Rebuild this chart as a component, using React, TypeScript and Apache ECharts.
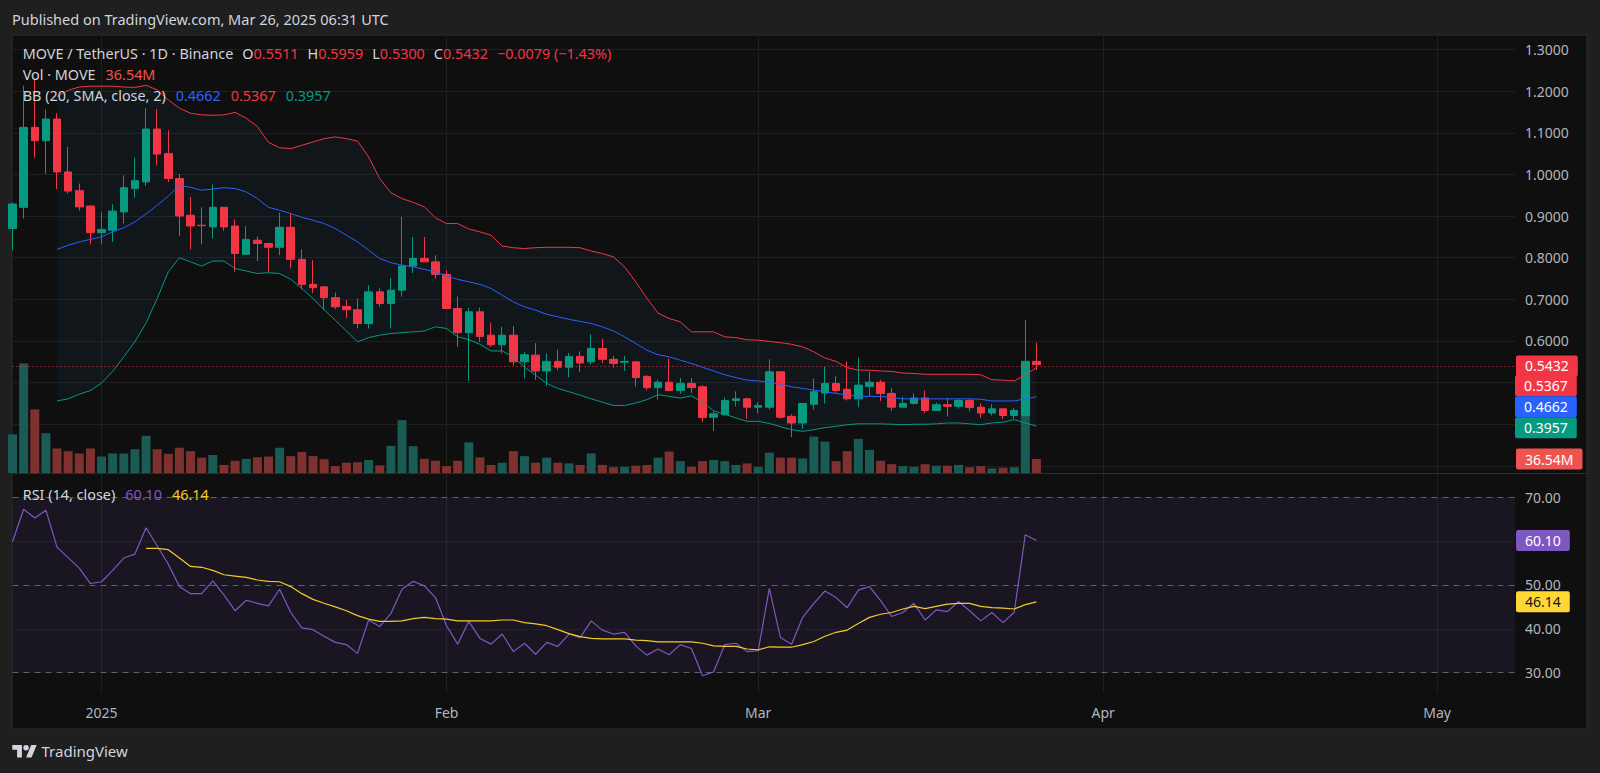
import React, { useEffect, useRef } from "react";
import * as echarts from "echarts";

const FONT = "'Noto Sans', 'DejaVu Sans', sans-serif";

// ---------- data ----------
// daily candles from 2024-12-24 to 2025-03-26: [open, high, low, close]
const candles: [number, number, number, number][] = [
  [0.870, 0.932, 0.818, 0.929],
  [0.921, 1.213, 0.894, 1.113],
  [1.113, 1.227, 1.040, 1.081],
  [1.081, 1.156, 1.002, 1.133],
  [1.133, 1.147, 0.965, 1.006],
  [1.006, 1.066, 0.954, 0.960],
  [0.961, 0.978, 0.913, 0.922],
  [0.924, 0.926, 0.832, 0.860],
  [0.860, 0.909, 0.832, 0.868],
  [0.866, 0.928, 0.838, 0.912],
  [0.910, 0.998, 0.882, 0.968],
  [0.966, 1.040, 0.944, 0.985],
  [0.982, 1.159, 0.972, 1.109],
  [1.109, 1.157, 1.022, 1.049],
  [1.050, 1.106, 0.982, 0.990],
  [0.990, 1.001, 0.852, 0.900],
  [0.902, 0.946, 0.820, 0.876],
  [0.878, 0.921, 0.832, 0.877],
  [0.874, 0.976, 0.846, 0.921],
  [0.921, 0.921, 0.865, 0.874],
  [0.876, 0.892, 0.766, 0.810],
  [0.808, 0.876, 0.808, 0.844],
  [0.842, 0.851, 0.792, 0.834],
  [0.834, 0.834, 0.766, 0.825],
  [0.825, 0.908, 0.806, 0.873],
  [0.873, 0.906, 0.774, 0.796],
  [0.796, 0.820, 0.724, 0.736],
  [0.736, 0.794, 0.715, 0.728],
  [0.730, 0.730, 0.674, 0.704],
  [0.704, 0.716, 0.676, 0.682],
  [0.683, 0.698, 0.655, 0.675],
  [0.675, 0.702, 0.630, 0.642],
  [0.642, 0.734, 0.630, 0.718],
  [0.718, 0.726, 0.682, 0.690],
  [0.690, 0.751, 0.630, 0.722],
  [0.722, 0.898, 0.706, 0.780],
  [0.780, 0.850, 0.763, 0.798],
  [0.798, 0.850, 0.790, 0.790],
  [0.790, 0.806, 0.750, 0.760],
  [0.760, 0.770, 0.678, 0.678],
  [0.678, 0.707, 0.586, 0.620],
  [0.620, 0.680, 0.504, 0.670],
  [0.670, 0.680, 0.598, 0.611],
  [0.614, 0.644, 0.586, 0.591],
  [0.591, 0.634, 0.570, 0.614],
  [0.614, 0.636, 0.542, 0.550],
  [0.550, 0.574, 0.510, 0.567],
  [0.566, 0.595, 0.507, 0.528],
  [0.528, 0.570, 0.492, 0.551],
  [0.551, 0.579, 0.530, 0.537],
  [0.537, 0.571, 0.513, 0.563],
  [0.563, 0.575, 0.525, 0.547],
  [0.550, 0.616, 0.544, 0.582],
  [0.582, 0.606, 0.547, 0.556],
  [0.556, 0.564, 0.536, 0.546],
  [0.549, 0.564, 0.528, 0.551],
  [0.550, 0.550, 0.490, 0.512],
  [0.515, 0.518, 0.481, 0.488],
  [0.488, 0.507, 0.459, 0.501],
  [0.501, 0.558, 0.481, 0.481],
  [0.481, 0.511, 0.473, 0.498],
  [0.498, 0.511, 0.475, 0.488],
  [0.490, 0.494, 0.405, 0.416],
  [0.417, 0.431, 0.384, 0.425],
  [0.423, 0.464, 0.419, 0.457],
  [0.457, 0.479, 0.443, 0.461],
  [0.461, 0.464, 0.413, 0.441],
  [0.441, 0.453, 0.427, 0.445],
  [0.441, 0.556, 0.435, 0.526],
  [0.526, 0.526, 0.413, 0.417],
  [0.419, 0.424, 0.369, 0.403],
  [0.403, 0.451, 0.389, 0.450],
  [0.448, 0.510, 0.435, 0.478],
  [0.475, 0.538, 0.450, 0.498],
  [0.498, 0.515, 0.475, 0.481],
  [0.484, 0.551, 0.457, 0.461],
  [0.461, 0.560, 0.441, 0.494],
  [0.491, 0.527, 0.467, 0.501],
  [0.501, 0.507, 0.456, 0.474],
  [0.474, 0.487, 0.432, 0.441],
  [0.441, 0.466, 0.441, 0.450],
  [0.450, 0.474, 0.447, 0.463],
  [0.463, 0.481, 0.427, 0.433],
  [0.433, 0.452, 0.433, 0.447],
  [0.447, 0.463, 0.419, 0.443],
  [0.443, 0.461, 0.437, 0.457],
  [0.457, 0.461, 0.432, 0.440],
  [0.441, 0.450, 0.415, 0.427],
  [0.427, 0.448, 0.421, 0.437],
  [0.437, 0.437, 0.413, 0.421],
  [0.421, 0.440, 0.413, 0.433],
  [0.421, 0.651, 0.421, 0.5511],
  [0.5511, 0.5959, 0.5300, 0.5432],
];

// volume in millions of MOVE
const volumes: number[] = [
  101, 286, 166, 104, 64, 57, 51, 64,
  43, 51, 51, 62, 97, 62, 50, 66, 57, 40, 47, 21, 32, 37, 41, 43,
  66, 44, 55, 44, 36, 18, 27, 28, 34, 20, 71, 138, 70, 37, 32,
  18, 32, 80, 41, 21, 27, 57, 44, 27, 40, 27, 25, 21, 51, 21, 15,
  16, 19, 21, 40, 56, 31, 16, 31, 34, 31, 21, 25,
  16, 53, 40, 40, 38, 95, 82, 31, 57, 89, 60, 32, 23, 18, 16, 23,
  19, 19, 21, 15, 18, 12, 14, 15, 215, 36.54,
];

const bbUpper: (number | null)[] = [
  null, null, null, null, 1.187, 1.202, 1.210, 1.212,
  1.212, 1.212, 1.210, 1.209, 1.214, 1.203, 1.179, 1.159, 1.147, 1.143, 1.142, 1.143, 1.149, 1.135, 1.115, 1.077,
  1.064, 1.062, 1.070, 1.078, 1.086, 1.090, 1.086, 1.080, 1.042, 0.990, 0.956, 0.942, 0.933, 0.922, 0.896,
  0.882, 0.882, 0.869, 0.862, 0.854, 0.828, 0.824, 0.822, 0.824, 0.825, 0.825, 0.825, 0.824, 0.816, 0.810, 0.802,
  0.778, 0.742, 0.703, 0.667, 0.654, 0.646, 0.622, 0.622, 0.622, 0.610, 0.608, 0.603,
  0.602, 0.599, 0.596, 0.592, 0.586, 0.574, 0.559, 0.551, 0.536, 0.530, 0.530, 0.528, 0.527, 0.523, 0.522, 0.520,
  0.520, 0.520, 0.520, 0.520, 0.519, 0.507, 0.506, 0.504, 0.518, 0.5367,
];

const bbBasis: (number | null)[] = [
  null, null, null, null, 0.820, 0.830, 0.838, 0.844,
  0.850, 0.862, 0.872, 0.886, 0.905, 0.926, 0.948, 0.974, 0.969, 0.962, 0.965, 0.968, 0.966, 0.958, 0.942, 0.921,
  0.914, 0.906, 0.897, 0.890, 0.882, 0.870, 0.854, 0.838, 0.818, 0.798, 0.788, 0.782, 0.778, 0.772, 0.766,
  0.756, 0.748, 0.742, 0.736, 0.726, 0.710, 0.694, 0.682, 0.674, 0.664, 0.658, 0.652, 0.647, 0.642, 0.634, 0.624,
  0.610, 0.594, 0.578, 0.567, 0.562, 0.554, 0.546, 0.537, 0.528, 0.519, 0.512, 0.506,
  0.504, 0.501, 0.496, 0.490, 0.486, 0.482, 0.478, 0.474, 0.470, 0.467, 0.467, 0.467, 0.464, 0.461, 0.461, 0.461,
  0.461, 0.461, 0.461, 0.461, 0.460, 0.456, 0.456, 0.456, 0.461, 0.4662,
];

const bbLower: (number | null)[] = [
  null, null, null, null, 0.456, 0.461, 0.472, 0.481,
  0.499, 0.527, 0.562, 0.598, 0.643, 0.702, 0.766, 0.800, 0.790, 0.780, 0.792, 0.792, 0.774, 0.768, 0.762, 0.764,
  0.762, 0.748, 0.726, 0.702, 0.675, 0.650, 0.624, 0.598, 0.608, 0.614, 0.618, 0.620, 0.622, 0.624, 0.634,
  0.630, 0.610, 0.603, 0.592, 0.576, 0.576, 0.562, 0.537, 0.518, 0.498, 0.486, 0.478, 0.470, 0.461, 0.453, 0.445,
  0.445, 0.451, 0.459, 0.471, 0.467, 0.463, 0.468, 0.453, 0.432, 0.424, 0.415, 0.407,
  0.407, 0.402, 0.394, 0.387, 0.383, 0.387, 0.392, 0.395, 0.399, 0.401, 0.401, 0.401, 0.400, 0.399, 0.400, 0.400,
  0.401, 0.403, 0.403, 0.401, 0.399, 0.403, 0.405, 0.411, 0.403, 0.3957,
];

const rsi: number[] = [
  59.8, 67.2, 65.2, 67.0, 58.6, 56.2, 53.8, 50.3,
  50.7, 53.3, 56.1, 57.0, 63.0, 58.9, 54.7, 49.6, 48.0, 48.0, 50.9, 47.7, 44.1, 46.5, 45.8, 45.2,
  49.0, 43.7, 40.2, 39.8, 38.3, 36.9, 36.4, 34.4, 42.0, 40.5, 43.5, 49.0, 50.8, 49.8, 47.1,
  40.7, 36.5, 41.7, 37.8, 36.5, 38.8, 34.8, 36.7, 34.2, 36.9, 36.0, 38.8, 38.0, 41.8, 39.7, 38.8,
  39.2, 36.1, 34.0, 35.4, 34.1, 36.4, 35.5, 29.3, 30.2, 36.4, 36.7, 34.8,
  35.0, 49.2, 38.0, 36.5, 42.6, 45.8, 48.6, 47.1, 44.8, 48.8, 49.6, 46.4, 42.8, 43.7, 45.8, 42.0,
  44.3, 43.9, 46.2, 44.1, 41.8, 43.7, 41.4, 43.7, 61.4, 60.1,
];

const rsiMa: (number | null)[] = [
  null, null, null, null, null, null, null, null,
  null, null, null, null, 58.3, 58.3, 58.0, 56.1, 54.2, 54.0, 53.3, 52.3, 52.0, 51.7, 51.1, 50.8,
  50.7, 49.6, 48.0, 46.7, 45.8, 45.0, 44.1, 43.0, 42.2, 41.7, 41.7, 41.8, 42.3, 42.6, 42.3,
  42.2, 41.8, 41.8, 41.8, 41.8, 42.0, 42.0, 41.4, 41.1, 40.7, 39.8, 38.9, 38.2, 37.8, 37.7, 37.7,
  37.7, 37.4, 37.3, 37.0, 37.0, 37.0, 37.0, 36.7, 36.1, 36.0, 36.0, 35.4,
  35.2, 35.9, 35.8, 35.8, 36.4, 37.1, 38.3, 39.2, 39.7, 41.2, 42.6, 43.3, 43.7, 44.5, 45.1, 44.6,
  45.1, 45.6, 45.8, 45.8, 45.1, 44.8, 44.7, 44.5, 45.5, 46.14,
];

// grid lines of the price scale, and which of them carry a visible label
const PRICE_TICKS = [0.3, 0.4, 0.5, 0.6, 0.7, 0.8, 0.9, 1.0, 1.1, 1.2, 1.3];
const PRICE_LABELED = [0.6, 0.7, 0.8, 0.9, 1.0, 1.1, 1.2, 1.3];
const RSI_BANDS = [70, 50, 30];
const RSI_GRID = [60, 40];
const RSI_LABELS = [70, 50, 40, 30];
const MONTHS = ["Jan", "Feb", "Mar", "Apr", "May", "Jun", "Jul", "Aug", "Sep", "Oct", "Nov", "Dec"];

// category axis: one slot per day, 2024-12-24 to 2025-05-08
const START_UTC = Date.UTC(2024, 11, 24);
const DAY_MS = 86400000;
const DAY_SLOTS = 136;
const dates: string[] = Array.from({ length: DAY_SLOTS }, (_, i) =>
  new Date(START_UTC + i * DAY_MS).toISOString().slice(0, 10)
);

// ---------- layout ----------
const PLOT_LEFT = 12.5;
const PLOT_RIGHT = 1515;
const PANE_TOP = 35;
const PANE_SPLIT = 473;
const RSI_BOTTOM = 693;
const VOL_HEIGHT = 180;
const Y_OF_1_3 = 49.5;
const PRICE_PX_PER_UNIT = 416.4;
const Y_OF_RSI70 = 497;
const RSI_PX_PER_UNIT = 4.3925;
const VOL_M_PER_PX = 2.61;
const LEGEND_SIZE = 14.4;

const UP = "#089981";
const DOWN = "#f23645";
const VOL_UP = "#1b5b55";
const VOL_DOWN = "#7f3130";
const TEXT = "#d1d4dc";
const AXIS_TEXT = "#b2b5be";
const GRID = "#1f1f1f";

const TV_LOGO = "M14 22H7V11H0V4h14v18zM28 22h-8l7.5-18h8L28 22zM24 8a4 4 0 1 1-8 0a4 4 0 1 1 8 0z";
try {
  echarts.graphic.registerShape("tvlogo", echarts.graphic.extendPath(TV_LOGO, {}));
} catch (e) {
  /* already registered */
}

function boxLabel(text: string, bg: string, color = "#ffffff") {
  return {
    show: true,
    position: "end",
    distance: 1,
    formatter: text,
    backgroundColor: bg,
    color,
    padding: [3, 9, 3, 9],
    lineHeight: 15,
    fontSize: 14,
    borderRadius: 2,
    fontFamily: FONT,
  };
}

const CLEAR_LINE = { color: "rgba(0,0,0,0)", width: 0 };

function buildOption() {
  const priceMax = 1.3 + (Y_OF_1_3 - PANE_TOP) / PRICE_PX_PER_UNIT;
  const priceMin = 1.3 - (PANE_SPLIT - Y_OF_1_3) / PRICE_PX_PER_UNIT;
  const rsiMax = 70 + (Y_OF_RSI70 - PANE_SPLIT) / RSI_PX_PER_UNIT;
  const rsiMin = 70 - (RSI_BOTTOM - Y_OF_RSI70) / RSI_PX_PER_UNIT;
  const volMax = VOL_HEIGHT * VOL_M_PER_PX;

  const n = candles.length;
  const last = candles[n - 1];
  const prev = candles[n - 2];
  const change = last[3] - prev[3];
  const pct = (change / prev[3]) * 100;
  const sign = change < 0 ? "−" : "+";
  const lastVol = volumes[n - 1];
  const lastRsi = rsi[n - 1];
  const lastMa = rsiMa[n - 1] as number;
  const lastBasis = bbBasis[n - 1] as number;
  const lastUpper = bbUpper[n - 1] as number;
  const lastLower = bbLower[n - 1] as number;

  const nulls = dates.map(() => null);
  const isMonthStart = (_i: number, v: string) => v.endsWith("-01");
  const monthLabel = (v: string) => {
    const d = new Date(v + "T00:00:00Z");
    return d.getUTCMonth() === 0 ? String(d.getUTCFullYear()) : MONTHS[d.getUTCMonth()];
  };
  const xAxisFor = (gridIndex: number, labels: boolean, split: boolean, show = true) => ({
    type: "category",
    gridIndex,
    data: dates,
    boundaryGap: false,
    show,
    axisLine: { show: false },
    axisTick: { show: false },
    axisLabel: {
      show: labels,
      interval: isMonthStart,
      formatter: monthLabel,
      color: AXIS_TEXT,
      fontSize: 14,
      fontFamily: FONT,
      margin: 12,
    },
    splitLine: { show: split, interval: isMonthStart, lineStyle: { color: GRID, width: 1 } },
  });

  const seg = (fill: string, pad = 0) => ({
    fill,
    fontSize: LEGEND_SIZE,
    fontFamily: FONT,
    padding: [0, 0, 0, pad],
  });
  const rich = {
    g: seg(TEXT),
    k: seg(TEXT, 9),
    r: seg(DOWN),
    c: seg(DOWN, 9),
    v: seg("#ef5350", 10),
    b: seg("#2962ff", 10),
    u: seg(DOWN, 10),
    l: seg(UP, 10),
    p: seg("#7e57c2", 10),
    y: seg("#f5c92a", 10),
  };
  const legend = (x: number, y: number, text: string) => ({
    type: "text",
    x,
    y,
    z: 30,
    silent: true,
    style: { text, rich, fill: TEXT, fontSize: LEGEND_SIZE, fontFamily: FONT, align: "left", verticalAlign: "middle" },
  });
  const stackBox = (y: number, text: string, bg: string) => ({
    type: "text",
    x: PLOT_RIGHT,
    y,
    z: 40,
    silent: true,
    style: {
      text,
      fill: "#ffffff",
      backgroundColor: bg,
      padding: [3, 9, 3, 9],
      lineHeight: 15,
      borderRadius: 2,
      fontSize: 14,
      fontFamily: FONT,
      align: "left",
      verticalAlign: "middle",
    },
  });

  const f4 = (v: number) => v.toFixed(4);
  const line1 =
    `{g|MOVE / TetherUS · 1D · Binance}` +
    `{k|O}{r|${f4(last[0])}}{k|H}{r|${f4(last[1])}}{k|L}{r|${f4(last[2])}}{k|C}{r|${f4(last[3])}}` +
    `{c|${sign}${Math.abs(change).toFixed(4)} (${sign}${Math.abs(pct).toFixed(2)}%)}`;
  const line2 = `{g|Vol · MOVE}{v|${lastVol.toFixed(2)}M}`;
  const line3 = `{g|BB (20, SMA, close, 2)}{b|${f4(lastBasis)}}{u|${f4(lastUpper)}}{l|${f4(lastLower)}}`;
  const line4 = `{g|RSI (14, close)}{p|${lastRsi.toFixed(2)}}{y|${lastMa.toFixed(2)}}`;

  const lastPriceY = Y_OF_1_3 + (1.3 - last[3]) * PRICE_PX_PER_UNIT;
  const BOX_H = 21;

  return {
    animation: false,
    backgroundColor: "#1f1f1f",
    grid: [
      { left: PLOT_LEFT, right: 1600 - PLOT_RIGHT, top: PANE_TOP, height: PANE_SPLIT - PANE_TOP },
      { left: PLOT_LEFT, right: 1600 - PLOT_RIGHT, top: PANE_SPLIT - VOL_HEIGHT, height: VOL_HEIGHT },
      { left: PLOT_LEFT, right: 1600 - PLOT_RIGHT, top: PANE_SPLIT, height: RSI_BOTTOM - PANE_SPLIT },
    ],
    xAxis: [xAxisFor(0, false, true), xAxisFor(1, false, false, false), xAxisFor(2, true, true)],
    yAxis: [
      { type: "value", gridIndex: 0, min: priceMin, max: priceMax, show: false },
      { type: "value", gridIndex: 1, min: 0, max: volMax, show: false },
      { type: "value", gridIndex: 2, min: rsiMin, max: rsiMax, show: false },
    ],
    graphic: [
      {
        type: "rect",
        z: -10,
        silent: true,
        shape: { x: 12, y: PANE_TOP, width: 1575, height: 729 - PANE_TOP },
        style: { fill: "#0f0f0f", stroke: "#2c2c2c", lineWidth: 1 },
      },
      {
        type: "line",
        z: 20,
        silent: true,
        shape: { x1: 12, y1: PANE_SPLIT + 0.5, x2: 1587, y2: PANE_SPLIT + 0.5 },
        style: { stroke: "#2c2c2c", lineWidth: 1 },
      },
      {
        type: "text",
        x: 12,
        y: 19,
        z: 30,
        silent: true,
        style: {
          text: "Published on TradingView.com, Mar 26, 2025 06:31 UTC",
          fill: TEXT,
          fontSize: 14.5,
          fontFamily: FONT,
          align: "left",
          verticalAlign: "middle",
        },
      },
      legend(22.7, 53.2, line1),
      legend(22.7, 74.6, line2),
      legend(22.7, 95.8, line3),
      legend(22.7, 494, line4),
      stackBox(lastPriceY + BOX_H, f4(lastUpper), DOWN),
      stackBox(lastPriceY + 2 * BOX_H, f4(lastBasis), "#2962ff"),
      stackBox(lastPriceY + 3 * BOX_H, f4(lastLower), UP),
      {
        type: "tvlogo",
        x: 12.3,
        y: 742.3,
        scaleX: 0.687,
        scaleY: 0.687,
        z: 30,
        silent: true,
        style: { fill: TEXT },
      },
      {
        type: "text",
        x: 41.5,
        y: 751,
        z: 30,
        silent: true,
        style: { text: "TradingView", fill: TEXT, fontSize: 15, fontFamily: FONT, align: "left", verticalAlign: "middle" },
      },
    ],
    series: [
      // price grid lines + price scale labels
      {
        type: "line",
        xAxisIndex: 0,
        yAxisIndex: 0,
        data: nulls,
        symbol: "none",
        silent: true,
        z: 1,
        markLine: {
          silent: true,
          z: 1,
          symbol: ["none", "none"],
          data: PRICE_TICKS.map((v) => ({
            yAxis: v,
            lineStyle: { color: GRID, type: "solid", width: 1 },
            label: {
              show: PRICE_LABELED.includes(v),
              position: "end",
              distance: 10,
              formatter: v.toFixed(4),
              color: AXIS_TEXT,
              fontSize: 14,
              fontFamily: FONT,
            },
          })),
        },
      },
      // Bollinger fill
      {
        type: "line",
        xAxisIndex: 0,
        yAxisIndex: 0,
        data: bbLower,
        stack: "bb",
        symbol: "none",
        silent: true,
        lineStyle: { width: 0, opacity: 0 },
        z: 1,
      },
      {
        type: "line",
        xAxisIndex: 0,
        yAxisIndex: 0,
        data: bbUpper.map((u, i) => (u == null || bbLower[i] == null ? null : u - (bbLower[i] as number))),
        stack: "bb",
        symbol: "none",
        silent: true,
        lineStyle: { width: 0, opacity: 0 },
        areaStyle: { color: "rgba(33,150,243,0.05)", opacity: 1 },
        z: 1,
      },
      // volume
      {
        type: "bar",
        xAxisIndex: 1,
        yAxisIndex: 1,
        barWidth: 9,
        silent: true,
        z: 2,
        data: volumes.map((v, i) => ({
          value: v,
          itemStyle: { color: candles[i][3] >= candles[i][0] ? VOL_UP : VOL_DOWN },
        })),
        markLine: {
          silent: true,
          z: 8,
          symbol: ["none", "none"],
          data: [{ yAxis: lastVol, lineStyle: CLEAR_LINE, label: boxLabel(`${lastVol.toFixed(2)}M`, "#ef5350") }],
        },
      },
      // candles
      {
        type: "candlestick",
        xAxisIndex: 0,
        yAxisIndex: 0,
        barWidth: 8,
        silent: true,
        z: 3,
        data: candles.map(([o, h, l, c]) => [o, c, l, h]),
        itemStyle: { color: UP, color0: DOWN, borderColor: UP, borderColor0: DOWN, borderWidth: 1 },
        markLine: {
          silent: true,
          z: 8,
          symbol: ["none", "none"],
          data: [
            {
              yAxis: last[3],
              lineStyle: { color: DOWN, type: [1, 3], width: 1 },
              label: boxLabel(f4(last[3]), DOWN),
            },
          ],
        },
      },
      // Bollinger lines
      {
        type: "line",
        xAxisIndex: 0,
        yAxisIndex: 0,
        data: bbBasis,
        symbol: "none",
        silent: true,
        z: 4,
        lineStyle: { color: "#2962ff", width: 1 },
      },
      {
        type: "line",
        xAxisIndex: 0,
        yAxisIndex: 0,
        data: bbUpper,
        symbol: "none",
        silent: true,
        z: 4,
        lineStyle: { color: DOWN, width: 1 },
      },
      {
        type: "line",
        xAxisIndex: 0,
        yAxisIndex: 0,
        data: bbLower,
        symbol: "none",
        silent: true,
        z: 4,
        lineStyle: { color: UP, width: 1 },
      },
      // RSI band, levels and scale labels
      {
        type: "line",
        xAxisIndex: 2,
        yAxisIndex: 2,
        data: nulls,
        symbol: "none",
        silent: true,
        z: 1,
        markArea: {
          silent: true,
          z: 0,
          itemStyle: { color: "rgba(126,87,194,0.1)" },
          data: [[{ yAxis: RSI_BANDS[0] }, { yAxis: RSI_BANDS[RSI_BANDS.length - 1] }]],
        },
        markLine: {
          silent: true,
          z: 1,
          symbol: ["none", "none"],
          data: [
            ...RSI_GRID.map((v) => ({
              yAxis: v,
              lineStyle: { color: "rgba(255,255,255,0.05)", type: "solid", width: 1 },
              label: { show: false },
            })),
            ...RSI_BANDS.map((v) => ({
              yAxis: v,
              lineStyle: { color: "rgba(120,123,134,0.75)", type: [6, 5], width: 1 },
              label: { show: false },
            })),
            ...RSI_LABELS.map((v) => ({
              yAxis: v,
              lineStyle: CLEAR_LINE,
              label: {
                show: true,
                position: "end",
                distance: 10,
                formatter: v.toFixed(2),
                color: AXIS_TEXT,
                fontSize: 14,
                fontFamily: FONT,
              },
            })),
          ],
        },
      },
      {
        type: "line",
        xAxisIndex: 2,
        yAxisIndex: 2,
        data: rsi,
        symbol: "none",
        silent: true,
        z: 3,
        lineStyle: { color: "#7e57c2", width: 1.2 },
        markLine: {
          silent: true,
          z: 8,
          symbol: ["none", "none"],
          data: [{ yAxis: lastRsi, lineStyle: CLEAR_LINE, label: boxLabel(lastRsi.toFixed(2), "#7e57c2") }],
        },
      },
      {
        type: "line",
        xAxisIndex: 2,
        yAxisIndex: 2,
        data: rsiMa,
        symbol: "none",
        silent: true,
        z: 3,
        lineStyle: { color: "#f5c92a", width: 1.2 },
        markLine: {
          silent: true,
          z: 8,
          symbol: ["none", "none"],
          data: [{ yAxis: lastMa, lineStyle: CLEAR_LINE, label: boxLabel(lastMa.toFixed(2), "#fdd835", "#131722") }],
        },
      },
    ],
  };
}

export default function App() {
  const ref = useRef<HTMLDivElement>(null);
  useEffect(() => {
    if (!ref.current) return;
    const chart = echarts.init(ref.current, null, { renderer: "svg" });
    chart.setOption(buildOption() as any);
    return () => chart.dispose();
  }, []);
  return <div ref={ref} style={{ position: "fixed", left: 0, top: 0, width: 1600, height: 773 }} />;
}
